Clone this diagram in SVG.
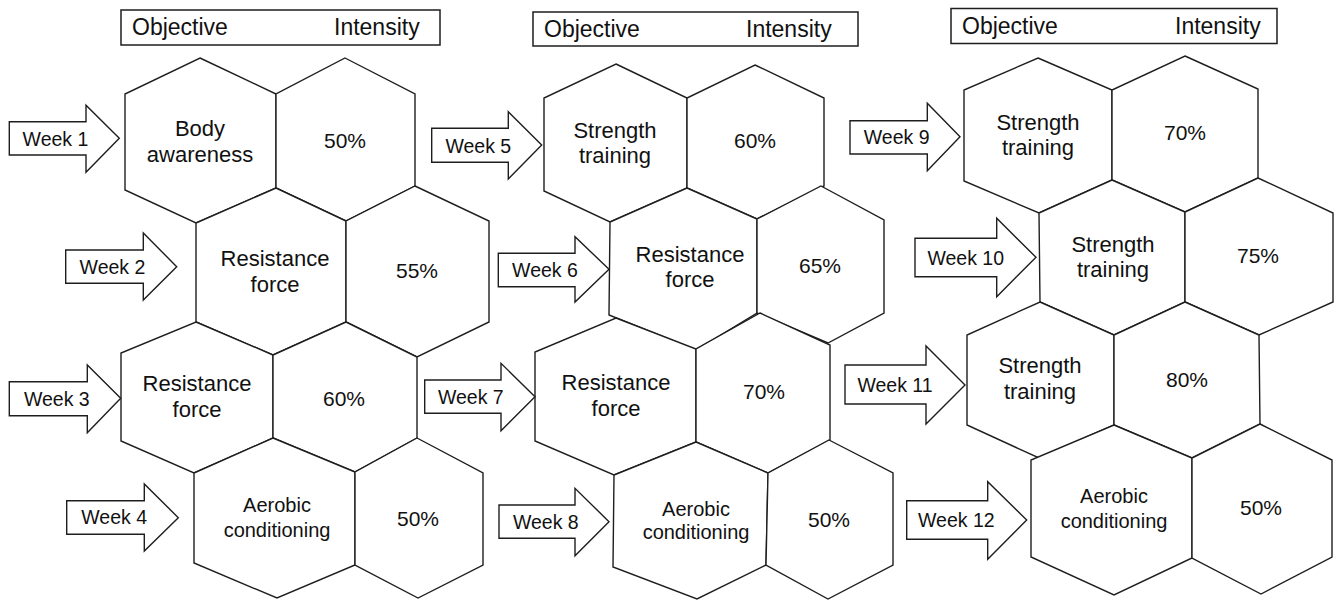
<svg xmlns="http://www.w3.org/2000/svg" width="1338" height="600" viewBox="0 0 1338 600">
<style>
.bg{fill:#ffffff}
.hx{fill:#ffffff;stroke:#1e1e1e;stroke-width:1.4;stroke-linejoin:miter}
.ar{fill:#ffffff;stroke:#1e1e1e;stroke-width:1.4;stroke-linejoin:miter}
.hd{fill:#ffffff;stroke:#1e1e1e;stroke-width:1.5}
text{font-family:"Liberation Sans",Arial,sans-serif;fill:#111111}
.h{font-size:23px}
.l{font-size:22px;text-anchor:middle}
.p{font-size:21px;text-anchor:middle}
.a{font-size:20px;text-anchor:middle}
.w{font-size:19.5px;text-anchor:middle}
</style>
<rect class="bg" x="0" y="0" width="1338" height="600"/>

<g id="headers">
<g id="header1"><rect class="hd" x="121" y="10" width="319" height="35"/><text class="h" x="132" y="35">Objective</text><text class="h" x="334" y="35">Intensity</text></g>
<g id="header2"><rect class="hd" x="533" y="12" width="325" height="34"/><text class="h" x="544" y="37">Objective</text><text class="h" x="746" y="37">Intensity</text></g>
<g id="header3"><rect class="hd" x="951" y="8.5" width="326" height="35"/><text class="h" x="962" y="33.5">Objective</text><text class="h" x="1175" y="33.5">Intensity</text></g>
</g>

<g id="hexagons">
<g id="w1-obj"><polygon class="hx" points="200,58 276,94 276,188 196,223 125,190 125,94"/><text class="l" x="200" y="136">Body</text><text class="l" x="200" y="162">awareness</text></g>
<g id="w1-int"><polygon class="hx" points="345,58 415,94 415,186 346,221 276,188 276,94"/><text class="p" x="345" y="148">50%</text></g>
<g id="w2-obj"><polygon class="hx" points="276,188 346,221 346,322 273,355 196,322 196,223"/><text class="l" x="275" y="266">Resistance</text><text class="l" x="275" y="292">force</text></g>
<g id="w2-int"><polygon class="hx" points="415,186 489,221 489,322 417,357 346,322 346,221"/><text class="p" x="417" y="278">55%</text></g>
<g id="w3-obj"><polygon class="hx" points="196,322 273,355 273,438 194,473 121,441 121,353"/><text class="l" x="197" y="391">Resistance</text><text class="l" x="197" y="417">force</text></g>
<g id="w3-int"><polygon class="hx" points="346,322 417,357 417,438 355,472 273,438 273,355"/><text class="p" x="344" y="406">60%</text></g>
<g id="w4-obj"><polygon class="hx" points="273,438 355,472 355,565 277,598 194,563 194,473"/><text class="a" x="277" y="512">Aerobic</text><text class="a" x="277" y="537">conditioning</text></g>
<g id="w4-int"><polygon class="hx" points="417,438 483,473 483,565 418,598 355,565 355,472"/><text class="p" x="418" y="526">50%</text></g>

<g id="w5-obj"><polygon class="hx" points="616,64 687,98 687,188 610,222 544,191 544,98"/><text class="l" x="615" y="138">Strength</text><text class="l" x="615" y="163">training</text></g>
<g id="w5-int"><polygon class="hx" points="755,65 824,98 824,186 757,219 687,188 687,98"/><text class="p" x="755" y="148">60%</text></g>
<g id="w6-obj"><polygon class="hx" points="687,188 757,219 757,313 696,350 609,315 610,222"/><text class="l" x="690" y="262">Resistance</text><text class="l" x="690" y="287">force</text></g>
<g id="w6-int"><polygon class="hx" points="821,186 884,220 884,313 828,343 757,313 757,219"/><text class="p" x="820" y="273">65%</text></g>
<g id="w7-obj"><polygon class="hx" points="616,318 696,349 696,442 614,475 535,441 535,352"/><text class="l" x="616" y="390">Resistance</text><text class="l" x="616" y="416">force</text></g>
<g id="w7-int"><polygon class="hx" points="760,313 830,345 830,440 768,473 696,442 696,349"/><text class="p" x="764" y="399">70%</text></g>
<g id="w8-obj"><polygon class="hx" points="696,442 768,473 766,565 697,599 613,567 614,475"/><text class="a" x="696" y="516">Aerobic</text><text class="a" x="696" y="539">conditioning</text></g>
<g id="w8-int"><polygon class="hx" points="829,440 893,473 893,565 828,599 766,565 768,473"/><text class="p" x="829" y="527">50%</text></g>

<g id="w9-obj"><polygon class="hx" points="1038,58 1112,90 1112,180 1039,213 964,181 964,90"/><text class="l" x="1038" y="130">Strength</text><text class="l" x="1038" y="155">training</text></g>
<g id="w9-int"><polygon class="hx" points="1185,56 1258,89 1258,178 1185,212 1112,180 1112,90"/><text class="p" x="1185" y="140">70%</text></g>
<g id="w10-obj"><polygon class="hx" points="1112,180 1185,212 1185,302 1114,335 1040,302 1039,213"/><text class="l" x="1113" y="252">Strength</text><text class="l" x="1113" y="277">training</text></g>
<g id="w10-int"><polygon class="hx" points="1258,178 1333,213 1333,302 1259,335 1185,302 1185,212"/><text class="p" x="1258" y="263">75%</text></g>
<g id="w11-obj"><polygon class="hx" points="1040,302 1114,335 1114,425 1039,458 967,425 967,335"/><text class="l" x="1040" y="373">Strength</text><text class="l" x="1040" y="399">training</text></g>
<g id="w11-int"><polygon class="hx" points="1185,302 1259,335 1260,424 1192,458 1114,425 1114,335"/><text class="p" x="1187" y="387">80%</text></g>
<g id="w12-obj"><polygon class="hx" points="1114,425 1192,458 1192,558 1114,595 1031,557 1031,460"/><text class="a" x="1114" y="503">Aerobic</text><text class="a" x="1114" y="528">conditioning</text></g>
<g id="w12-int"><polygon class="hx" points="1260,424 1332,460 1332,557 1261,594 1192,558 1192,458"/><text class="p" x="1261" y="515">50%</text></g>
</g>

<g id="connectors">
<g id="week1"><polygon class="ar" points="9.3,121.7 86,121.7 86,105.3 119.3,138.3 86,172.3 86,155 9.3,155"/><text class="w" x="55.5" y="146">Week 1</text></g>
<g id="week2"><polygon class="ar" points="65.7,250 143.3,250 143.3,233 176.7,266.7 143.3,300 143.3,283.3 65.7,283.3"/><text class="w" x="112.5" y="274">Week 2</text></g>
<g id="week3"><polygon class="ar" points="9.3,381.7 87.3,381.7 87.3,365 120.7,398.3 87.3,432.7 87.3,415.7 9.3,415.7"/><text class="w" x="56.8" y="406">Week 3</text></g>
<g id="week4"><polygon class="ar" points="66.7,500.7 144.3,500.7 144.3,484 178.3,517.7 144.3,551 144.3,534.3 66.7,534.3"/><text class="w" x="114.2" y="524.3">Week 4</text></g>
<g id="week5"><polygon class="ar" points="431.7,128.3 508.3,128.3 508.3,111.7 541.7,145 508.3,179 508.3,162.3 431.7,162.3"/><text class="w" x="478.3" y="152.7">Week 5</text></g>
<g id="week6"><polygon class="ar" points="498.3,253.3 575,253.3 575,236.7 609,269.3 575,302 575,286.7 498.3,286.7"/><text class="w" x="545" y="276.7">Week 6</text></g>
<g id="week7"><polygon class="ar" points="424.7,380 501,380 501,363.3 535,396.7 501,430.7 501,413.3 424.7,413.3"/><text class="w" x="470.8" y="404">Week 7</text></g>
<g id="week8"><polygon class="ar" points="499,505 575,505 575,488.3 609,521.7 575,555.7 575,538.3 499,538.3"/><text class="w" x="545.8" y="529">Week 8</text></g>
<g id="week9"><polygon class="ar" points="850,120.7 927.3,120.7 927.3,103.3 960,136.7 927.3,170.7 927.3,154 850,154"/><text class="w" x="896.7" y="144">Week 9</text></g>
<g id="week10"><polygon class="ar" points="915,238.3 996.7,238.3 996.7,218.3 1036,257.3 996.7,296.7 996.7,276.7 915,276.7"/><text class="w" x="965.7" y="265">Week 10</text></g>
<g id="week11"><polygon class="ar" points="845,365 926,365 926,346 965,385 926,424 926,404 845,404"/><text class="w" x="895" y="391.7">Week 11</text></g>
<g id="week12"><polygon class="ar" points="906.7,500.7 987.7,500.7 987.7,481.7 1026.7,520 987.7,559.3 987.7,539.3 906.7,539.3"/><text class="w" x="956.3" y="526.7">Week 12</text></g>
</g>
</svg>
